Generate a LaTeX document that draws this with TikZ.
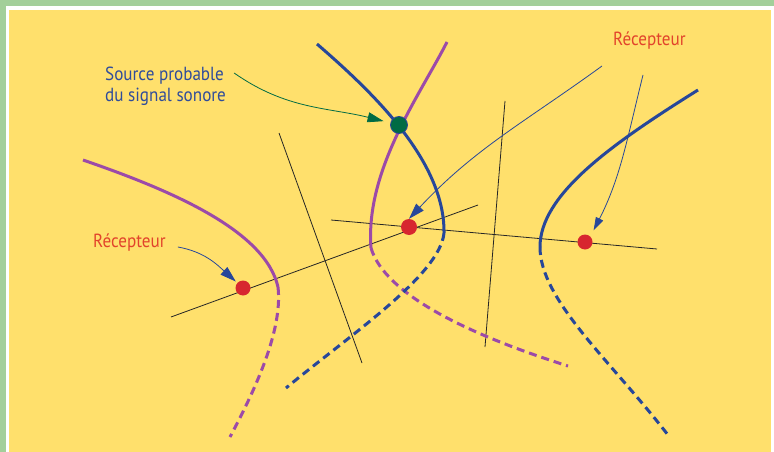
\documentclass[tikz,border=0pt]{standalone}
\usepackage{fontspec}
\newfontfamily\lblfont{PT Sans}[FakeStretch=0.9]
\usetikzlibrary{positioning,arrows.meta}

\definecolor{fond}{RGB}{255,224,108}
\definecolor{cadre}{RGB}{163,207,154}
\definecolor{hviolet}{RGB}{156,74,168}
\definecolor{hbleu}{RGB}{39,71,154}
\definecolor{rouge}{RGB}{215,38,47}
\definecolor{vertsrc}{RGB}{0,107,68}
\definecolor{txtbleu}{RGB}{47,76,155}
\definecolor{txtrouge}{RGB}{226,68,43}

\begin{document}
\begin{tikzpicture}[x=1pt,y=1pt,
        every node/.style={font=\lblfont\fontsize{19}{21}\selectfont,inner sep=0pt},
        hypV/.style={hviolet,line width=3pt},
        hypB/.style={hbleu,line width=3pt},
        cache/.style={dash pattern=on 8pt off 5pt},
        axe/.style={black!85,line width=0.8pt},
        recep/.style={circle,fill=rouge,minimum size=15pt},
        fleche/.style={line width=0.8pt,-{Triangle[length=16pt,width=10pt]}}
    ]
    % fond et cadre
    \fill[cadre] (0,0) rectangle (774,-452);
    \fill[white] (6,-6) rectangle (774,-452);
    \fill[fond] (9,-10) rectangle (771,-452);
    \useasboundingbox (0,0) rectangle (774,-452);
    %
    % droites entre recepteurs et mediatrices
    \draw[axe] (171,-317) -- (478,-205);
    \draw[axe] (331,-220) -- (657,-249);
    \draw[axe] (279,-133) -- (362,-363);
    \draw[axe] (505,-101) -- (485,-347);
    %
    % hyperboles
    \draw[hypV] (83,-160) .. controls (170,-190) and (265,-230) .. (278,-287);
    \draw[hypV,cache] (278,-287) .. controls (283,-330) and (255,-390) .. (230,-437);
    \draw[hypV] (447,-42) .. controls (420,-95) and (365,-170) .. (371,-248);
    \draw[hypV,cache] (371,-248) .. controls (385,-295) and (470,-335) .. (568,-366);
    \draw[hypB] (317,-44) .. controls (370,-90) and (445,-160) .. (444,-233);
    \draw[hypB,cache] (444,-233) .. controls (440,-275) and (350,-335) .. (286,-388);
    \draw[hypB] (698,-90) .. controls (610,-145) and (540,-195) .. (540,-247);
    \draw[hypB,cache] (540,-247) .. controls (540,-300) and (610,-360) .. (668,-435);
    %
    % recepteurs et source
    \node[recep] (r1) at (243,-288) {};
    \node[recep,minimum size=16pt] (r2) at (409,-227) {};
    \node[recep] (r3) at (585,-242) {};
    \node[circle,fill=vertsrc,draw=hbleu,line width=0.8pt,minimum size=17pt] (src) at (399,-125) {};
    %
    % textes
    \node[text=txtbleu,align=left,anchor=north west] (srclbl) at (105,-67) {Source probable\\du signal sonore};
    \node[text=txtrouge,anchor=base west] (rlbl1) at (613,-46) {Récepteur};
    \node[text=txtrouge,anchor=base west] (rlbl2) at (93,-247) {Récepteur};
    %
    \draw
    ([shift={(8,-6)}]srclbl.north east) edge[fleche,vertsrc,out=-35,in=166,shorten >=7pt] (src)
    ([shift={(12,0)}]rlbl2.base east) edge[fleche,hbleu,out=-10,in=138,shorten >=2pt] (r1)
    ([shift={(-11,-16)}]rlbl1.south west) edge[fleche,hbleu,out=216,in=47] (r2.north)
    ([shift={(30,-25)}]rlbl1.south west) edge[fleche,hbleu,out=256,in=63,shorten >=7pt,
        -{Triangle[length=13pt,width=8pt]}] (r3.north east);
    %
\end{tikzpicture}
\end{document}
